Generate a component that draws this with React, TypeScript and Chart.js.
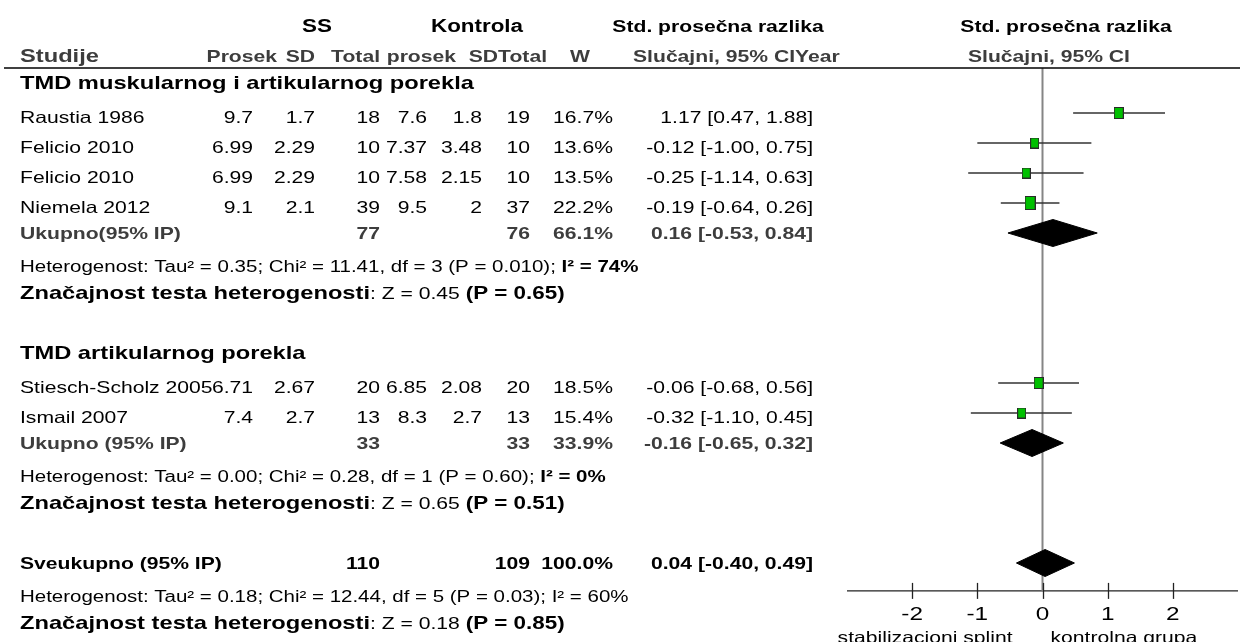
import React, { useEffect, useRef } from 'react';
import { Chart, registerables } from 'chart.js';

Chart.register(...registerables);

// ---------------- data ----------------
const groupTitles = ['TMD muskularnog i artikularnog porekla', 'TMD artikularnog porekla'];
const groupStudyCounts = [4, 2];

const studyNames = ['Raustia 1986', 'Felicio 2010', 'Felicio 2010', 'Niemela 2012', 'Stiesch-Scholz 2005', 'Ismail 2007'];
const ssMean = ['9.7', '6.99', '6.99', '9.1', '6.71', '7.4'];
const ssSD = ['1.7', '2.29', '2.29', '2.1', '2.67', '2.7'];
const ssTotal = [18, 10, 10, 39, 20, 13];
const ctrlMean = ['7.6', '7.37', '7.58', '9.5', '6.85', '8.3'];
const ctrlSD = ['1.8', '3.48', '2.15', '2', '2.08', '2.7'];
const ctrlTotal = [19, 10, 10, 37, 20, 13];
const weightPct = [16.7, 13.6, 13.5, 22.2, 18.5, 15.4];
const smd = [1.17, -0.12, -0.25, -0.19, -0.06, -0.32];
const ciLow = [0.47, -1.0, -1.14, -0.64, -0.68, -1.1];
const ciHigh = [1.88, 0.75, 0.63, 0.26, 0.56, 0.45];

const subtotalLabels = ['Ukupno(95% IP)', 'Ukupno (95% IP)'];
const subSSTotal = [77, 33];
const subCtrlTotal = [76, 33];
const subWeight = [66.1, 33.9];
const subSmd = [0.16, -0.16];
const subLow = [-0.53, -0.65];
const subHigh = [0.84, 0.32];

const overallLabel = 'Sveukupno (95% IP)';
const overallSSTotal = 110;
const overallCtrlTotal = 109;
const overallWeight = 100.0;
const overallSmd = 0.04;
const overallLow = -0.4;
const overallHigh = 0.49;

// heterogeneity / overall-effect lines: group 1, group 2, overall
const hetTau = ['0.35', '0.00', '0.18'];
const hetChi = ['11.41', '0.28', '12.44'];
const hetDf = [3, 1, 5];
const hetP = ['0.010', '0.60', '0.03'];
const hetI2 = [74, 0, 60];
const hetI2Bold = [true, true, false];
const effZ = ['0.45', '0.65', '0.18'];
const effP = ['0.65', '0.51', '0.85'];

const headerGroups = ['SS', 'Kontrola', 'Std. prosečna razlika', 'Std. prosečna razlika'];
const headerCols = ['Studije', 'Prosek', 'SD', 'Total', 'prosek', 'SD', 'Total', 'W', 'Slučajni, 95% CI', 'Year', 'Slučajni, 95% CI'];

const axisTicks = [-2, -1, 0, 1, 2];
const axisMin = -3;
const axisMax = 3;
const favoursLeft = 'stabilizacioni splint';
const favoursRight = 'kontrolna grupa';

// ---------------- layout ----------------
const W = 1240;
const H = 642;
const ROW_H = 30;
const FIRST_ROW_PX = 23;
const HS = 1.28; // horizontal stretch of the text
const FONT = '"Liberation Sans", Arial, sans-serif';
const GRAY = '#3d3d3d';
const PLOT_LEFT = 847;
const PLOT_RIGHT_PAD = 2;
const AXIS_ROW = 18.93;
const HEADER_RULE_ROW = 1.5;
const DIAMOND_HALF = 0.45;

const COL = {
  name: 20,
  ssMean: 253,
  ssSD: 315,
  ssTotal: 380,
  ctMean: 427,
  ctSD: 482,
  ctTotal: 530,
  w: 613,
  ci: 813,
};

// build row indices
const studyRows: number[] = [];
const titleRows: number[] = [];
const subtotalRows: number[] = [];
const hetRows: number[] = [];
const sigRows: number[] = [];
let overallRow = 0;
(() => {
  let r = 2;
  let s = 0;
  groupStudyCounts.forEach((n) => {
    titleRows.push(r);
    r++;
    for (let k = 0; k < n; k++) {
      studyRows[s++] = r++;
    }
    subtotalRows.push(r);
    hetRows.push(r + 1);
    sigRows.push(r + 2);
    r += 4;
  });
  overallRow = r;
  hetRows.push(r + 1);
  sigRows.push(r + 2);
})();

const fmt2 = (v: number) => v.toFixed(2);
const ciText = (e: number, lo: number, hi: number) => `${fmt2(e)} [${fmt2(lo)}, ${fmt2(hi)}]`;

function makeSquare(w: number, h: number): HTMLCanvasElement {
  const c = document.createElement('canvas');
  c.width = w + 2;
  c.height = h + 2;
  const g = c.getContext('2d')!;
  g.fillStyle = '#00c000';
  g.fillRect(0.5, 0.5, w + 1, h + 1);
  g.strokeStyle = '#2a2a2a';
  g.lineWidth = 1;
  g.strokeRect(0.5, 0.5, w + 1, h + 1);
  return c;
}

function setFont(ctx: CanvasRenderingContext2D, size: number, bold: boolean) {
  ctx.font = `${bold ? 'bold ' : ''}${size}px ${FONT}`;
}

function txt(
  ctx: CanvasRenderingContext2D,
  s: string,
  x: number,
  y: number,
  size: number,
  bold = false,
  color = '#000',
  align: CanvasTextAlign = 'left'
) {
  ctx.save();
  setFont(ctx, size, bold);
  ctx.fillStyle = color;
  ctx.textBaseline = 'middle';
  ctx.textAlign = align;
  ctx.translate(x, y);
  ctx.scale(HS, 1);
  ctx.fillText(s, 0, 0);
  ctx.restore();
}

function measure(ctx: CanvasRenderingContext2D, s: string, size: number, bold: boolean) {
  ctx.save();
  setFont(ctx, size, bold);
  const w = ctx.measureText(s).width * HS;
  ctx.restore();
  return w;
}

function runs(ctx: CanvasRenderingContext2D, parts: [string, number, boolean][], x: number, y: number, color = '#000') {
  let cx = x;
  parts.forEach(([s, size, bold]) => {
    txt(ctx, s, cx, y, size, bold, color, 'left');
    cx += measure(ctx, s, size, bold);
  });
}

const tablePlugin = {
  id: 'forestTable',
  afterDraw(chart: any) {
    const ctx: CanvasRenderingContext2D = chart.ctx;
    const xs = chart.scales.x;
    const ys = chart.scales.y;
    const Y = (r: number) => ys.getPixelForValue(r);
    const X = (v: number) => xs.getPixelForValue(v);

    ctx.save();
    // headers
    const h1 = Y(0) + 4;
    txt(ctx, headerGroups[0], 317, h1, 17.5, true, '#000', 'center');
    txt(ctx, headerGroups[1], 477, h1, 17.5, true, '#000', 'center');
    txt(ctx, headerGroups[2], 718, h1, 16.5, true, '#000', 'center');
    txt(ctx, headerGroups[3], 1066, h1, 16.5, true, '#000', 'center');
    const h2 = Y(1) + 4;
    txt(ctx, headerCols[0], COL.name, h2, 18.5, true, GRAY, 'left');
    txt(ctx, headerCols[1], 277, h2, 16.5, true, GRAY, 'right');
    txt(ctx, headerCols[2], 315, h2, 16.5, true, GRAY, 'right');
    txt(ctx, headerCols[3], 380, h2, 16.5, true, GRAY, 'right');
    txt(ctx, headerCols[4], 456, h2, 16.5, true, GRAY, 'right');
    txt(ctx, headerCols[5], 498, h2, 16.5, true, GRAY, 'right');
    txt(ctx, headerCols[6], 547, h2, 16.5, true, GRAY, 'right');
    txt(ctx, headerCols[7], 590, h2, 16.5, true, GRAY, 'right');
    txt(ctx, headerCols[8], 795, h2, 16.5, true, GRAY, 'right');
    txt(ctx, headerCols[9], 795, h2, 16.5, true, GRAY, 'left');
    txt(ctx, headerCols[10], 1049, h2, 16.5, true, GRAY, 'center');

    // header rule
    ctx.beginPath();
    ctx.strokeStyle = '#000';
    ctx.lineWidth = 1.5;
    ctx.moveTo(4, Y(HEADER_RULE_ROW));
    ctx.lineTo(W, Y(HEADER_RULE_ROW));
    ctx.stroke();

    // group titles
    titleRows.forEach((r, g) => txt(ctx, groupTitles[g], COL.name, Y(r) + 1, 18.5, true));

    // studies
    studyNames.forEach((name, i) => {
      const y = Y(studyRows[i]) + 5;
      const f = 16.5;
      txt(ctx, name, COL.name, y, f);
      txt(ctx, ssMean[i], COL.ssMean, y, f, false, '#000', 'right');
      txt(ctx, ssSD[i], COL.ssSD, y, f, false, '#000', 'right');
      txt(ctx, String(ssTotal[i]), COL.ssTotal, y, f, false, '#000', 'right');
      txt(ctx, ctrlMean[i], COL.ctMean, y, f, false, '#000', 'right');
      txt(ctx, ctrlSD[i], COL.ctSD, y, f, false, '#000', 'right');
      txt(ctx, String(ctrlTotal[i]), COL.ctTotal, y, f, false, '#000', 'right');
      txt(ctx, `${weightPct[i].toFixed(1)}%`, COL.w, y, f, false, '#000', 'right');
      txt(ctx, ciText(smd[i], ciLow[i], ciHigh[i]), COL.ci, y, f, false, '#000', 'right');
    });

    // subtotals
    subtotalRows.forEach((r, g) => {
      const y = Y(r) + 1;
      const f = 16.5;
      txt(ctx, subtotalLabels[g], COL.name, y, f, true, GRAY);
      txt(ctx, String(subSSTotal[g]), COL.ssTotal, y, f, true, GRAY, 'right');
      txt(ctx, String(subCtrlTotal[g]), COL.ctTotal, y, f, true, GRAY, 'right');
      txt(ctx, `${subWeight[g].toFixed(1)}%`, COL.w, y, f, true, GRAY, 'right');
      txt(ctx, ciText(subSmd[g], subLow[g], subHigh[g]), COL.ci, y, f, true, GRAY, 'right');
    });

    // overall
    {
      const y = Y(overallRow) + 1;
      const f = 16.5;
      txt(ctx, overallLabel, COL.name, y, f, true);
      txt(ctx, String(overallSSTotal), COL.ssTotal, y, f, true, '#000', 'right');
      txt(ctx, String(overallCtrlTotal), COL.ctTotal, y, f, true, '#000', 'right');
      txt(ctx, `${overallWeight.toFixed(1)}%`, COL.w, y, f, true, '#000', 'right');
      txt(ctx, ciText(overallSmd, overallLow, overallHigh), COL.ci, y, f, true, '#000', 'right');
    }

    // heterogeneity and overall effect
    hetRows.forEach((r, k) => {
      const y = Y(r) + 5;
      runs(ctx, [
        [`Heterogenost: Tau² = ${hetTau[k]}; Chi² = ${hetChi[k]}, df = ${hetDf[k]} (P = ${hetP[k]}); `, 16, false],
        [`I² = ${hetI2[k]}%`, 16, hetI2Bold[k]],
      ], COL.name, y);
    });
    sigRows.forEach((r, k) => {
      const y = Y(r) + 1;
      runs(ctx, [
        ['Značajnost testa heterogenosti', 18.5, true],
        [`: Z = ${effZ[k]} `, 16.5, false],
        [`(P = ${effP[k]})`, 17.5, true],
      ], COL.name, y);
    });

    // axis ticks
    const ay = Y(AXIS_ROW);
    ctx.strokeStyle = '#222';
    ctx.lineWidth = 1.3;
    axisTicks.forEach((t) => {
      const x = Math.round(X(t)) + 0.5;
      ctx.beginPath();
      ctx.moveTo(x, ay - 8);
      ctx.lineTo(x, ay + 8);
      ctx.stroke();
      txt(ctx, String(t), X(t), ay + 24, 19, false, '#000', 'center');
    });
    txt(ctx, favoursLeft, X(0) - 30, ay + 48, 16.5, false, '#000', 'right');
    txt(ctx, favoursRight, X(0) + 8, ay + 48, 16.5, false, '#000', 'left');
    ctx.restore();
  },
};

export default function App() {
  const ref = useRef<HTMLCanvasElement | null>(null);

  useEffect(() => {
    document.body.style.margin = '0';
    const canvas = ref.current;
    if (!canvas) return;

    const datasets: any[] = [];

    // squares (size from study weight)
    const squareStyles = weightPct.map((w) => {
      const sw = Math.round(Math.sqrt(w) * 1.85);
      const sh = Math.round(sw * 1.3);
      return makeSquare(sw, sh);
    });
    datasets.push({
      type: 'scatter',
      data: smd.map((v, i) => ({ x: v, y: studyRows[i] })),
      pointStyle: squareStyles,
      pointRadius: 5,
      order: 0,
    });

    // CI whiskers
    smd.forEach((_, i) => {
      datasets.push({
        type: 'line',
        data: [
          { x: ciLow[i], y: studyRows[i] },
          { x: ciHigh[i], y: studyRows[i] },
        ],
        borderColor: '#333',
        borderWidth: 1.4,
        pointRadius: 0,
        fill: false,
        order: 2,
      });
    });

    // diamonds (upper half filled to lower half)
    const diamonds = [
      ...subSmd.map((e, g) => ({ e, lo: subLow[g], hi: subHigh[g], r: subtotalRows[g] })),
      { e: overallSmd, lo: overallLow, hi: overallHigh, r: overallRow },
    ];
    diamonds.forEach((d) => {
      datasets.push({
        type: 'line',
        data: [
          { x: d.lo, y: d.r },
          { x: d.e, y: d.r - DIAMOND_HALF },
          { x: d.hi, y: d.r },
        ],
        borderColor: '#000',
        backgroundColor: '#000',
        borderWidth: 1,
        pointRadius: 0,
        fill: '+1',
        order: 1,
      });
      datasets.push({
        type: 'line',
        data: [
          { x: d.lo, y: d.r },
          { x: d.e, y: d.r + DIAMOND_HALF },
          { x: d.hi, y: d.r },
        ],
        borderColor: '#000',
        backgroundColor: '#000',
        borderWidth: 1,
        pointRadius: 0,
        fill: false,
        order: 1,
      });
    });

    // line of no effect
    datasets.push({
      type: 'line',
      data: [
        { x: 0, y: HEADER_RULE_ROW },
        { x: 0, y: AXIS_ROW },
      ],
      borderColor: '#858585',
      borderWidth: 2,
      pointRadius: 0,
      fill: false,
      order: 3,
    });

    // x axis line
    datasets.push({
      type: 'line',
      data: [
        { x: axisMin, y: AXIS_ROW },
        { x: axisMax, y: AXIS_ROW },
      ],
      borderColor: '#222',
      borderWidth: 1.3,
      pointRadius: 0,
      fill: false,
      order: 3,
    });

    const yMin = -FIRST_ROW_PX / ROW_H;
    const yMax = yMin + H / ROW_H;

    const chart = new Chart(canvas, {
      type: 'line',
      data: { datasets },
      options: {
        animation: false,
        responsive: false,
        devicePixelRatio: 1,
        events: [],
        layout: { autoPadding: false, padding: { left: PLOT_LEFT, right: PLOT_RIGHT_PAD, top: 0, bottom: 0 } },
        scales: {
          x: { type: 'linear', min: axisMin, max: axisMax, display: false },
          y: { type: 'linear', min: yMin, max: yMax, reverse: true, display: false },
        },
        plugins: {
          legend: { display: false },
          tooltip: { enabled: false },
        },
      },
      plugins: [tablePlugin],
    } as any);

    return () => chart.destroy();
  }, []);

  return (
    <div style={{ position: 'fixed', left: 0, top: 0, width: W, height: H, background: '#fff' }}>
      <canvas ref={ref} width={W} height={H} style={{ display: 'block', width: W, height: H }} />
    </div>
  );
}
